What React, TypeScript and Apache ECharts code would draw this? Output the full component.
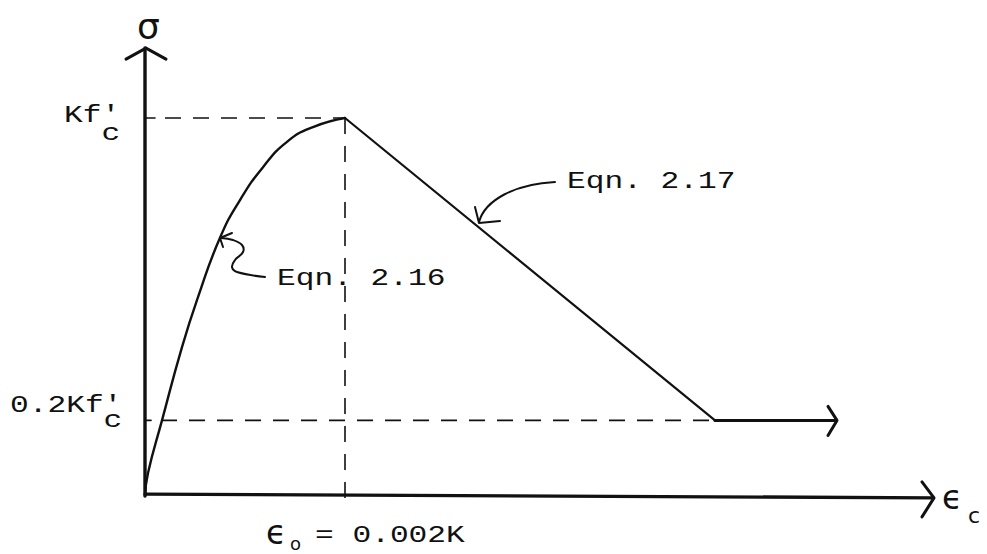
import { useEffect, useRef } from "react";
import * as echarts from "echarts";

// Normalised strain (ε / ε0) and stress (σ / K f'c) along the rising branch
const riseStrain = [0, 0.015, 0.085, 0.185, 0.265, 0.375, 0.475, 0.59, 0.71, 0.84, 1.0];
const riseStress = [0, 0.061, 0.2, 0.394, 0.526, 0.683, 0.783, 0.87, 0.937, 0.976, 1.0];

// Peak, linear softening branch and residual plateau
const peakStrain = 1.0;
const peakStress = 1.0;
const residualStrain = 2.85;
const residualStress = 0.2;
const plateauEndStrain = 3.45;

// Extent of the hand-drawn axes
const strainAxisEnd = 3.94;
const stressAxisEnd = 1.185;

// Axis annotations
const stressLabels = ["Kf'", "0.2Kf'"];
const stressLabelSubs = ["c", "c"];
const strainLabel = "= 0.002K";
const eqnLabels = ["Eqn. 2.16", "Eqn. 2.17"];

const INK = "#111";
const MONO = '24px "Liberation Mono", monospace';
const MONO_SCALE = 1.3;

export default function App() {
  const ref = useRef<HTMLDivElement>(null);

  useEffect(() => {
    const chart = echarts.init(ref.current!, undefined, { renderer: "svg" });

    const seg = (data: number[][], width: number, dashed = false, smooth: number | boolean = false) => ({
      type: "line",
      data,
      symbol: "none",
      smooth,
      clip: false,
      silent: true,
      lineStyle: dashed
        ? { color: INK, width, type: [16, 12], cap: "butt" }
        : { color: INK, width, type: "solid", cap: "round", join: "round" },
    });

    chart.setOption({
      animation: false,
      backgroundColor: "#fff",
      grid: { left: 145, right: 2, top: 4.6, bottom: 58 },
      xAxis: { type: "value", min: 0, max: 4.2, show: false },
      yAxis: { type: "value", min: 0, max: 1.3, show: false },
      series: [
        // stress–strain curve
        seg(riseStrain.map((x, i) => [x, riseStress[i]]), 2.4, false, 0.5),
        seg([[peakStrain, peakStress], [residualStrain, residualStress]], 2.2),
        seg([[residualStrain, residualStress], [plateauEndStrain, residualStress]], 3),
        // axes
        seg([[0, 0.005], [strainAxisEnd, -0.005]], 3.4),
        seg([[0, 0], [0, stressAxisEnd]], 3.4),
        // reference lines
        seg([[0.1, peakStress], [peakStrain, peakStress]], 1.6, true),
        seg([[peakStrain, peakStress], [peakStrain, -0.029]], 1.6, true),
        seg([[0.08, residualStress], [residualStrain, residualStress]], 1.6, true),
        // small ticks on the stress axis
        seg([[-0.04, peakStress], [0.05, peakStress]], 1.6),
        seg([[-0.03, residualStress], [0.03, residualStress]], 1.6),
      ],
    });

    const px = (x: number, y: number) => chart.convertToPixel({ gridIndex: 0 }, [x, y]) as number[];
    const yTip = px(0, stressAxisEnd);
    const xTip = px(strainAxisEnd, -0.005);
    const pTip = px(plateauEndStrain, residualStress);

    const stroke = (w: number) => ({ stroke: INK, lineWidth: w, fill: null, lineCap: "round", lineJoin: "round" });
    const chevron = (points: number[][], w = 3) => ({ type: "polyline", shape: { points }, style: stroke(w) });

    const mono = (text: string, x: number, baseline: number) => ({
      type: "text",
      x,
      y: baseline - 6.4,
      scaleX: MONO_SCALE,
      style: { text, font: MONO, fill: INK, textAlign: "left", textVerticalAlign: "middle" },
    });
    const script = (text: string, x: number, y: number, size: number) => ({
      type: "text",
      x,
      y,
      style: { text, font: `${size}px "DejaVu Sans"`, fill: INK, textAlign: "left", textVerticalAlign: "middle" },
    });

    chart.setOption({
      graphic: [
        chevron([[yTip[0] - 19, yTip[1] + 11], [yTip[0] + 1, yTip[1]], [yTip[0] + 21, yTip[1] + 11]]),
        chevron([[xTip[0] - 11, xTip[1] - 16], [xTip[0] + 1, xTip[1]], [xTip[0] - 11, xTip[1] + 19]]),
        chevron([[pTip[0] - 7, pTip[1] - 14], [pTip[0] + 2, pTip[1]], [pTip[0] - 7, pTip[1] + 15]]),

        // Eqn. 2.16 squiggle pointer
        {
          type: "polyline",
          shape: {
            points: [[265, 277], [237, 272], [232, 267], [235, 260], [243, 252], [242, 245], [233, 240], [221, 238]],
            smooth: 0.4,
          },
          style: stroke(2),
        },
        chevron([[232, 233], [220, 238], [223, 247]], 2),

        // Eqn. 2.17 curved pointer
        {
          type: "bezierCurve",
          shape: { x1: 555, y1: 182, cpx1: 515, cpy1: 184, cpx2: 485, cpy2: 200, x2: 479, y2: 222 },
          style: stroke(2),
        },
        chevron([[475, 207], [479, 223], [500, 221]], 2),

        // stress-axis labels
        mono(stressLabels[0], 64, 122),
        mono(stressLabelSubs[0], 101.4, 140),
        mono(stressLabels[1], 10, 412),
        mono(stressLabelSubs[1], 103.5, 427),

        // strain at peak
        script("ϵ", 266, 532, 33),
        script("o", 290, 543, 18),
        mono(strainLabel, 315, 542),

        // equation labels
        mono(eqnLabels[0], 277, 285),
        mono(eqnLabels[1], 567, 188),

        // axis symbols
        script("σ", 137, 26, 36),
        script("ϵ", 942, 497, 33),
        script("c", 968, 515, 22),
      ],
    });

    return () => chart.dispose();
  }, []);

  return (
    <div
      ref={ref}
      style={{ position: "absolute", left: 0, top: 0, width: 987, height: 554, background: "#fff" }}
    />
  );
}
